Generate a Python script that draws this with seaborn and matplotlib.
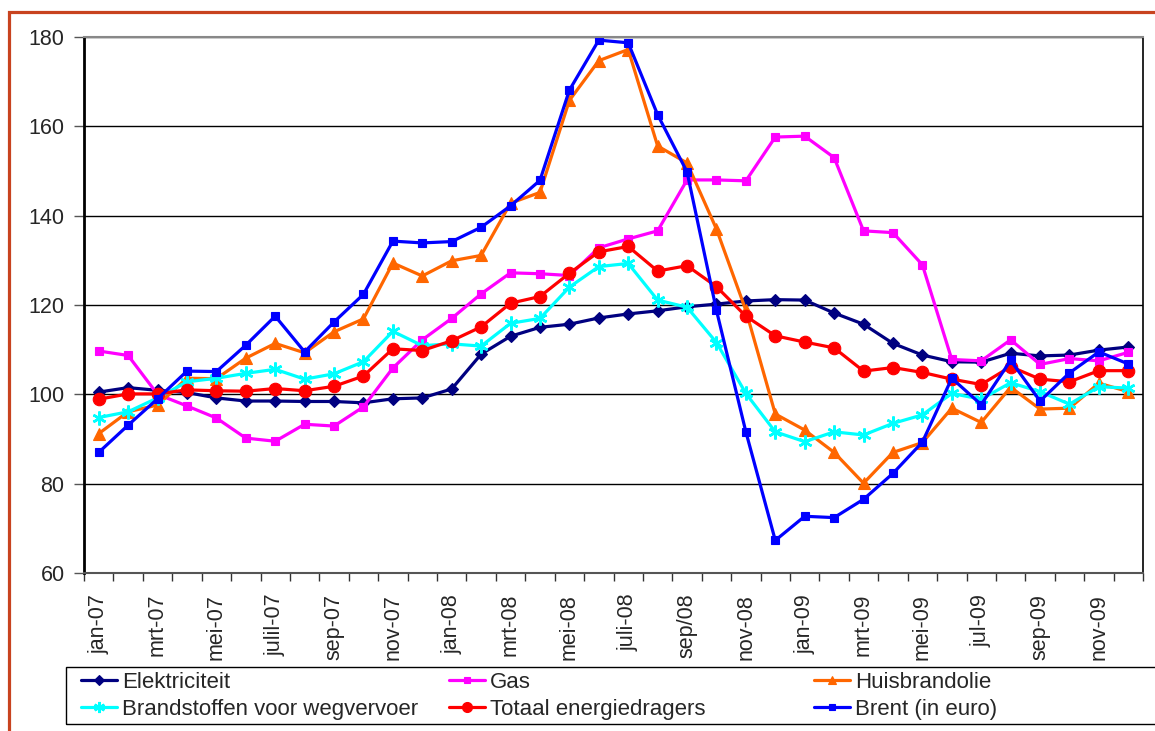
"""
Prijsindices energiedragers, jan-07 t/m dec-09 (index, maandcijfers).
Writes out.png.
"""

import numpy as np
import pandas as pd
import matplotlib.pyplot as plt
from matplotlib.patches import Rectangle
from matplotlib.lines import Line2D
import seaborn as sns

# ── Data ───────────────────────────────────────────────────────────────────
months = pd.date_range("2007-01-01", periods=36, freq="MS")

tick_labels = ["jan-07", "mrt-07", "mei-07", "julil-07", "sep-07", "nov-07",
               "jan-08", "mrt-08", "mei-08", "juli-08", "sep/08", "nov-08",
               "jan-09", "mrt-09", "mei-09", "jul-09", "sep-09", "nov-09"]

elektriciteit = [100.5, 101.5, 100.9, 100.4, 99.2, 98.5, 98.5, 98.4, 98.4, 98.1,
                 99.0, 99.2, 101.2, 109.0, 113.0, 115.0, 115.7, 117.1, 118.0, 118.7,
                 119.6, 120.2, 120.9, 121.2, 121.1, 118.2, 115.7, 111.4, 108.8, 107.3,
                 107.2, 109.2, 108.6, 108.8, 109.9, 110.6]
gas = [109.7, 108.7, 100.0, 97.4, 94.7, 90.2, 89.5, 93.3, 92.9, 97.2,
       105.9, 112.2, 117.0, 122.5, 127.2, 127.0, 126.6, 132.8, 134.8, 136.6,
       148.0, 148.0, 147.8, 157.6, 157.8, 153.0, 136.6, 136.2, 129.0, 107.8,
       107.5, 112.2, 106.7, 108.0, 107.5, 109.4]
huisbrandolie = [91.2, 96.1, 97.6, 103.6, 103.5, 108.1, 111.4, 109.3, 114.0, 116.9,
                 129.4, 126.5, 129.9, 131.1, 142.8, 145.2, 165.8, 174.7, 177.2, 155.6,
                 151.8, 137.0, 118.8, 95.6, 92.0, 87.0, 80.1, 87.0, 89.2, 96.9,
                 93.7, 101.6, 96.7, 96.9, 102.5, 100.6]
brandstoffen = [94.8, 96.1, 99.2, 102.8, 103.6, 104.7, 105.6, 103.4, 104.6, 107.3,
                114.1, 110.9, 111.3, 110.8, 115.9, 117.0, 124.0, 128.6, 129.3, 121.1,
                119.5, 111.6, 100.2, 91.6, 89.4, 91.6, 90.9, 93.5, 95.4, 100.2,
                98.9, 102.6, 100.6, 97.8, 101.7, 101.4]
totaal = [98.9, 100.1, 100.1, 101.0, 100.8, 100.7, 101.3, 100.8, 101.8, 104.1,
          110.2, 109.8, 112.0, 115.1, 120.4, 121.9, 127.1, 131.9, 133.1, 127.6,
          128.8, 124.1, 117.5, 113.1, 111.7, 110.4, 105.2, 106.0, 104.9, 103.4,
          102.2, 106.2, 103.4, 102.8, 105.3, 105.3]
brent = [87.0, 93.1, 99.0, 105.2, 105.1, 111.0, 117.5, 109.5, 116.2, 122.4,
         134.3, 133.9, 134.2, 137.4, 142.2, 147.9, 168.1, 179.3, 178.7, 162.6,
         149.8, 118.8, 91.6, 67.3, 72.7, 72.4, 76.5, 82.3, 89.3, 103.6,
         97.7, 107.6, 98.5, 104.8, 109.5, 106.8]

series = {
    "Elektriciteit": elektriciteit,
    "Gas": gas,
    "Huisbrandolie": huisbrandolie,
    "Brandstoffen voor wegvervoer": brandstoffen,
    "Totaal energiedragers": totaal,
    "Brent (in euro)": brent,
}

styles = {
    "Elektriciteit": dict(color="#000080", marker="D", ms=6),
    "Gas": dict(color="#FF00FF", marker="s", ms=6),
    "Huisbrandolie": dict(color="#FF6600", marker="^", ms=8),
    "Brandstoffen voor wegvervoer": dict(color="#00FFFF", marker=(6, 2, 0), ms=10, mew=1.8),
    "Totaal energiedragers": dict(color="#FF0000", marker="o", ms=9),
    "Brent (in euro)": dict(color="#0000FF", marker="s", ms=6),
}

df = pd.DataFrame(series)
df["pos"] = np.arange(len(months))

# ── Style ──────────────────────────────────────────────────────────────────
sns.set_theme(style="white")
plt.rcParams["font.family"] = ["Liberation Sans", "DejaVu Sans"]
FS = 15.5

fig = plt.figure(figsize=(11.55, 7.31), dpi=100)
ax = fig.add_axes([84 / 1155, 1 - 573 / 731, (1143 - 84) / 1155, (573 - 37) / 731])

for name in series:
    st = styles[name]
    sns.lineplot(data=df, x="pos", y=name, ax=ax, color=st["color"], lw=2.3,
                 marker=st["marker"], markersize=st["ms"],
                 markeredgewidth=st.get("mew", 0.8), markeredgecolor=st["color"],
                 label=name, legend=False)

# ── Axes ───────────────────────────────────────────────────────────────────
ax.set_xlim(-0.5, 35.5)
ax.set_ylim(60, 180)
ax.set_yticks(range(60, 181, 20))
ax.set_xticks(range(0, 36, 2))
ax.set_xticklabels(tick_labels, rotation=90, va="top", ha="center")
ax.set_xticks(np.arange(-0.5, 36, 1), minor=True)
ax.tick_params(axis="x", which="major", length=0, pad=15, labelsize=FS)
ax.tick_params(axis="x", which="minor", length=6, width=1, color="#333333", bottom=True)
ax.tick_params(axis="y", length=7, width=1, color="#555555", pad=7, labelsize=FS, left=True)
ax.set_xlabel("")
ax.set_ylabel("")
ax.grid(axis="y", color="#000000", lw=1.0)
ax.grid(axis="x", visible=False)
ax.set_axisbelow(True)
ax.spines["left"].set_color("#000000")
ax.spines["left"].set_linewidth(2.0)
ax.spines["right"].set_color("#000000")
ax.spines["right"].set_linewidth(1.2)
ax.spines["top"].set_color("#888888")
ax.spines["top"].set_linewidth(1.5)
ax.spines["bottom"].set_color("#555555")
ax.spines["bottom"].set_linewidth(1.5)

# ── Legend: three equal-width columns in one frame ────────────────────────
names = list(series)
col_x = [81, 449, 814]
for c, x0 in enumerate(col_x):
    handles = []
    labels = []
    for name in (names[c], names[c + 3]):
        st = styles[name]
        handles.append(Line2D([], [], color=st["color"], lw=2.3, marker=st["marker"],
                              markersize=st["ms"] * 0.8, markeredgewidth=st.get("mew", 0.8),
                              markeredgecolor=st["color"]))
        labels.append(name)
    fig.legend(handles, labels, loc="center left",
               bbox_to_anchor=(x0 / 1155, 1 - 696 / 731),
               frameon=False, fontsize=FS + 0.5, numpoints=1,
               handlelength=1.6, handletextpad=0.25, labelspacing=0.28,
               borderpad=0, borderaxespad=0)

fig.add_artist(Rectangle((66 / 1155, 1 - 724 / 731), 1.2, (724 - 667) / 731,
                         transform=fig.transFigure, fill=False, ec="#000000", lw=1.0))

# outer frame of the report page
fig.add_artist(Rectangle((9 / 1155, -0.2), 1.2, 0.2 + (731 - 12) / 731,
                         transform=fig.transFigure, fill=False, ec="#C8431F", lw=2.3))

fig.savefig("out.png", dpi=100)
